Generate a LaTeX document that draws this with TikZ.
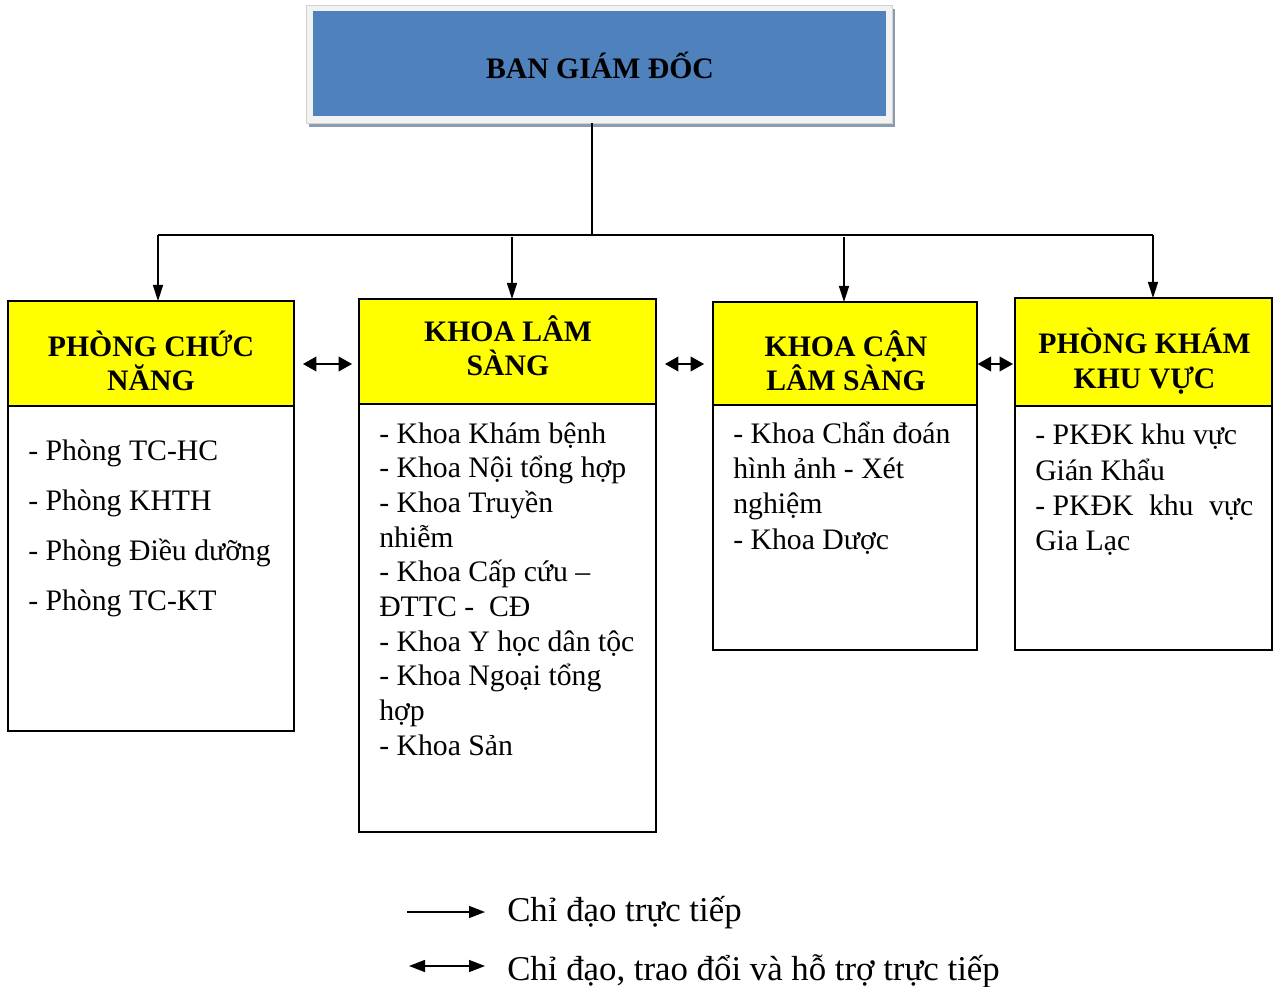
\documentclass[tikz,border=0pt]{standalone}
\usepackage{fontspec}
\setmainfont{Liberation Serif}
\usetikzlibrary{arrows.meta}

% one drawing unit
\newlength\pxu
\setlength\pxu{0.75pt}

\definecolor{boardblue}{RGB}{79,129,189}
\definecolor{hdryellow}{RGB}{255,255,0}
\definecolor{shadowgrey}{RGB}{141,155,176}
\definecolor{framegrey}{RGB}{242,242,242}

% multi-line text block whose baseline is the first line
\newcommand\txtblock[2]{\parbox[t]{#1}{\lineskiplimit=-100pt\relax #2}}

\tikzset{
  box/.style={rectangle, draw=black, inner sep=0pt, outer sep=0pt},
  hdrbox/.style={box, fill=hdryellow, line width=1.5pt},
  bodybox/.style={box, fill=white, line width=1.2pt},
  hdrtext/.style={inner sep=0pt, anchor=base,
    font=\bfseries\fontsize{22.3}{25.5}\selectfont},
  bodytext/.style={inner sep=0pt, anchor=base west,
    font=\fontsize{22.3}{26}\selectfont},
  legendtext/.style={inner sep=0pt, anchor=base west,
    font=\fontsize{26.1}{30}\selectfont},
  link/.style={draw=black, line width=1.1pt},
  downhead/.tip={Triangle[length=12pt,width=7.5pt]},
  mutualhead/.tip={Triangle[length=10pt,width=11pt]},
  legendhead/.tip={Triangle[length=12pt,width=9pt]},
  down/.style={link, -{downhead}},
  mutual/.style={link, {mutualhead}-{mutualhead}},
}

\begin{document}
\begin{tikzpicture}[x=\pxu, y=-\pxu]
\useasboundingbox (0,0) rectangle (1274,987);

% ---- board of directors ----
\node[rectangle, fill=shadowgrey, minimum width=586\pxu, minimum height=118\pxu,
      inner sep=0pt] (shadow) at (602,68) {};
\node[rectangle, fill=framegrey, draw=gray!35, line width=0.5pt,
      minimum width=586\pxu, minimum height=118\pxu, inner sep=0pt] (frame) at (599,64) {};
\node[rectangle, fill=boardblue, minimum width=573\pxu, minimum height=105\pxu,
      inner sep=0pt] (top) at (599.5,63.5) {};
\node[hdrtext] (toptxt) at (600,79) {BAN GIÁM ĐỐC};

% ---- department headers ----
\node[hdrbox, minimum width=286\pxu, minimum height=105\pxu] (h1) at (151,353.5) {};
\node[hdrbox, minimum width=297\pxu, minimum height=105\pxu] (h2) at (507.5,351.5) {};
\node[hdrbox, minimum width=264\pxu, minimum height=103\pxu] (h3) at (845,353.5) {};
\node[hdrbox, minimum width=257\pxu, minimum height=108\pxu] (h4) at (1143.5,352) {};

\node[hdrtext] (h1t) at (151,357) {\txtblock{280\pxu}{\centering PHÒNG CHỨC\\NĂNG}};
\node[hdrtext] (h2t) at (508,342) {\txtblock{280\pxu}{\centering KHOA LÂM\\SÀNG}};
\node[hdrtext] (h3t) at (846,357) {\txtblock{260\pxu}{\centering KHOA CẬN\\LÂM SÀNG}};
\node[hdrtext] (h4t) at (1144.5,354) {\txtblock{255\pxu}{\centering PHÒNG KHÁM\\KHU VỰC}};

% ---- department bodies ----
\node[bodybox, minimum width=286\pxu, minimum height=325\pxu] (b1) at (151,568.5) {};
\node[bodybox, minimum width=297\pxu, minimum height=428\pxu] (b2) at (507.5,618) {};
\node[bodybox, minimum width=264\pxu, minimum height=245\pxu] (b3) at (845,527.5) {};
\node[bodybox, minimum width=257\pxu, minimum height=244\pxu] (b4) at (1143.5,528) {};

\node[bodytext, font=\fontsize{22.3}{37.5}\selectfont] (b1t) at (28,460)
  {\txtblock{260\pxu}{\raggedright
   - Phòng TC-HC\\
   - Phòng KHTH\\
   - Phòng Điều dưỡng\\
   - Phòng TC-KT}};

\node[bodytext] (b2t) at (379,443)
  {\txtblock{280\pxu}{\raggedright
   - Khoa Khám bệnh\\
   - Khoa Nội tổng hợp\\
   - Khoa Truyền\\
   nhiễm\\
   - Khoa Cấp cứu –\\
   ĐTTC -\ \ CĐ\\
   - Khoa Y học dân tộc\\
   - Khoa Ngoại tổng\\
   hợp\\
   - Khoa Sản}};

\node[bodytext, font=\fontsize{22.3}{26.5}\selectfont] (b3t) at (733,443)
  {\txtblock{240\pxu}{\raggedright
   - Khoa Chẩn đoán\\
   hình ảnh - Xét\\
   nghiệm\\
   - Khoa Dược}};

\node[bodytext, font=\fontsize{22.3}{26.25}\selectfont] (b4t) at (1035,445)
  {\txtblock{218\pxu}{\raggedright
   - PKĐK khu vực\\
   Gián Khẩu\\
   -~PKĐK\hfill khu\hfill vực\\
   Gia Lạc}};

% ---- direct management lines ----
\coordinate (bus)  at (592,235);
\coordinate (busL) at (158,235);
\coordinate (busR) at (1153,235);
\coordinate (d2)   at (512,237);
\coordinate (d3)   at (844,237);

\draw[link] (bus |- frame.south) -- (bus);
\draw[link, line width=1.3pt] (busL) -- (busR);
\draw[down] (busL) -- (busL |- h1.north);
\draw[down] (d2) -- (d2 |- h2.north);
\draw[down] (d3) -- (d3 |- h3.north);
\draw[down] (busR) -- (busR |- h4.north);

% ---- mutual support between departments ----
\draw[mutual, shorten <=6.75pt, shorten >=5.25pt] (h1.east |- 0,364) -- (h2.west |- 0,364);
\draw[mutual, shorten <=6.75pt, shorten >=6.75pt] (h2.east |- 0,364) -- (h3.west |- 0,364);
\draw[mutual, shorten <=0.5pt, shorten >=1.5pt] (h3.east |- 0,364) -- (h4.west |- 0,364);

% ---- legend ----
\coordinate (l1a) at (407,912);
\coordinate (l1b) at (485,912);
\coordinate (l2a) at (409,966);
\coordinate (l2b) at (485,966);
\draw[link, -{legendhead}] (l1a) -- (l1b);
\draw[link, {legendhead}-{legendhead}] (l2a) -- (l2b);
\node[legendtext] (l1t) at (507,921) {Chỉ đạo trực tiếp};
\node[legendtext] (l2t) at (507,980) {Chỉ đạo, trao đổi và hỗ trợ trực tiếp};
\end{tikzpicture}
\end{document}
